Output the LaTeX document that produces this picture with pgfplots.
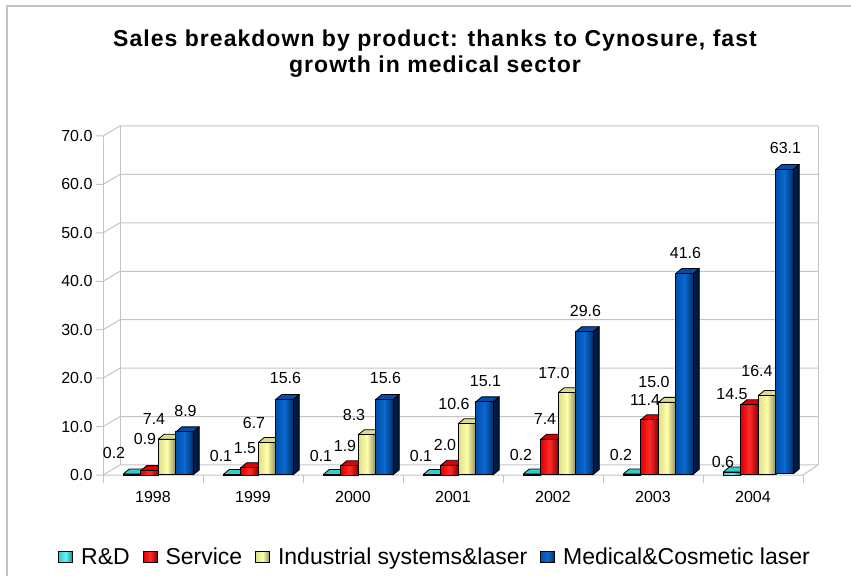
\documentclass[border=0pt]{standalone}
\usepackage{pgfplots}
\pgfplotsset{compat=1.18}
\usepackage{fontspec}
\setmainfont{Liberation Sans}
\definecolor{gridc}{HTML}{C4C4C4}
\definecolor{cyL}{HTML}{66F2F2}\definecolor{cyM}{HTML}{33CCCC}\definecolor{cyD}{HTML}{008C8C}\definecolor{cyS}{HTML}{005C5C}
\definecolor{rdL}{HTML}{FF2A2A}\definecolor{rdM}{HTML}{E00000}\definecolor{rdD}{HTML}{8A0000}\definecolor{rdS}{HTML}{4A0000}
\definecolor{ylL}{HTML}{FFFFA8}\definecolor{ylM}{HTML}{DCDC8C}\definecolor{ylD}{HTML}{8E8E5C}\definecolor{ylS}{HTML}{55552F}
\definecolor{blL}{HTML}{0A68D0}\definecolor{blM}{HTML}{0050AA}\definecolor{blD}{HTML}{00306A}\definecolor{blS}{HTML}{001A40}
\pgfplotsset{
  bar3d/.style n args={6}{only marks, scatter, mark=*, mark size=0pt,
    visualization depends on={y \as \rawy},
    scatter/@pre marker code/.code={%
      \pgfmathsetlengthmacro\hh{\rawy*4.842857}%
      \draw[black, line width=0.8bp, fill=#5, line join=round]
        (#1bp+8.75bp,0pt) -- ++(6bp,5bp) -- ++(0pt,-\hh) -- ++(-6bp,-5bp) -- cycle;
      \draw[black, line width=0.8bp, fill=#6, line join=round]
        (#1bp-8.75bp,0pt) -- ++(6bp,5bp) -- ++(17.5bp,0pt) -- ++(-6bp,-5bp) -- cycle;
      \draw[black, line width=0.8bp, left color=#3, right color=#4, middle color=#2]
        (#1bp-8.75bp,-\hh) rectangle (#1bp+8.75bp,0pt);
      \begin{scope}},
    scatter/@post marker code/.code={\end{scope}},
    legend image code/.code={\draw[black, line width=0.8bp, left color=#3, right color=#4, middle color=#2] (0bp,-5.5bp) rectangle (14bp,5.5bp);},
  },
  lbl/.style 2 args={only marks, mark=*, mark size=0pt, forget plot,
    nodes near coords={\pgfmathprintnumber[fixed,fixed zerofill,precision=1]{\pgfplotspointmeta}},
    nodes near coords style={font=\fontsize{16bp}{19bp}\selectfont, anchor=center, text=black, xshift=#1bp, yshift=#2bp}},
}
\begin{document}
\begin{tikzpicture}
\useasboundingbox (0bp,0bp) rectangle (851bp,576bp);
\draw[gridc, line width=1.2bp] (7bp,0bp) -- (7bp,570bp) -- (851bp,570bp);
\node[font=\fontsize{23bp}{26bp}\selectfont\bfseries\addfontfeature{LetterSpace=4.5}, align=center] at (435bp,522bp) {Sales breakdown by product: thanks to Cynosure, fast\\growth in medical sector};
\begin{axis}[
  at={(103bp,101bp)}, anchor=south west, scale only axis,
  width=700bp, height=339bp,
  xmin=-0.5, xmax=6.5, ymin=0, ymax=70, clip=false,
  axis line style={draw=none}, tick style={draw=none},
  tick align=outside, major tick length=7bp,
  xtick={0,...,6}, xticklabels={1998,1999,2000,2001,2002,2003,2004},
  ytick={0,10,...,70},
  yticklabel={\pgfmathprintnumber[fixed,fixed zerofill,precision=1]{\tick}},
  /pgf/number format/assume math mode=true,
  ticklabel style={font=\fontsize{16bp}{19bp}\selectfont},
  xticklabel style={yshift=-6bp},
  legend style={at={(0.473,-0.242)}, anchor=center, draw=none, fill=none,
    font=\fontsize{23bp}{27bp}\selectfont, nodes={inner sep=0pt},
    /tikz/every odd column/.append style={column sep=8bp},
    /tikz/every even column/.append style={column sep=13bp}},
  legend columns=4,
]
% 3D frame
\pgfplotsinvokeforeach{0,10,20,30,40,50,60,70}{
  \draw[gridc, line width=1bp] ([xshift=-7bp]axis cs:-0.5,#1) -- (axis cs:-0.5,#1) -- ([xshift=17bp,yshift=10bp]axis cs:-0.5,#1) -- ([xshift=15bp,yshift=10bp]axis cs:6.5,#1);
}
\draw[gridc, line width=1bp] (axis cs:-0.5,0) -- (axis cs:-0.5,70);
\draw[gridc, line width=1bp] ([xshift=17bp,yshift=10bp]axis cs:-0.5,0) -- ([xshift=17bp,yshift=10bp]axis cs:-0.5,70);
\draw[gridc, line width=1bp] ([xshift=15bp,yshift=10bp]axis cs:6.5,0) -- ([xshift=15bp,yshift=10bp]axis cs:6.5,70);
\draw[gridc, line width=1bp] (axis cs:-0.5,0) -- (axis cs:6.5,0) -- ([xshift=15bp,yshift=10bp]axis cs:6.5,0);
\pgfplotsinvokeforeach{-0.5,0.5,1.5,2.5,3.5,4.5,5.5,6.5}{
  \draw[gridc, line width=1bp] (axis cs:#1,0) -- ([yshift=-8bp]axis cs:#1,0);
}
% bars
\addplot[bar3d={-21}{cyL}{cyM}{cyD}{cyS}{cyM}]
  coordinates {(0,0.2) (1,0.1) (2,0.1) (3,0.1) (4,0.2) (5,0.2) (6,0.6)};
\addlegendentry{R\&D}
\addplot[bar3d={-3.5}{rdL}{rdM}{rdD}{rdS}{rdM}]
  coordinates {(0,0.9) (1,1.5) (2,1.9) (3,2.0) (4,7.4) (5,11.4) (6,14.5)};
\addlegendentry{Service}
\addplot[bar3d={14}{ylL}{ylM}{ylD}{ylS}{ylM}]
  coordinates {(0,7.4) (1,6.7) (2,8.3) (3,10.6) (4,17.0) (5,15.0) (6,16.4)};
\addlegendentry{Industrial systems\&laser}
\addplot[bar3d={31.5}{blL}{blM}{blD}{blS}{blM}]
  coordinates {(0,8.9) (1,15.6) (2,15.6) (3,15.1) (4,29.6) (5,41.6) (6,63.1)};
\addlegendentry{Medical\&Cosmetic laser}
% data labels
\addplot[lbl={-39}{21}] coordinates {(0,0.2)};
\addplot[lbl={-32}{19}]
  coordinates {(1,0.1) (2,0.1) (3,0.1) (4,0.2) (5,0.2)};
\addplot[lbl={-30}{10}] coordinates {(6,0.6)};
\addplot[lbl={-8}{32}] coordinates {(0,0.9)};
\addplot[lbl={-8}{20}]
  coordinates {(1,1.5) (2,1.9) (3,2.0) (4,7.4) (5,11.4)};
\addplot[lbl={-21}{11}] coordinates {(6,14.5)};
\addplot[lbl={1}{20}]
  coordinates {(0,7.4) (1,6.7) (2,8.3) (3,10.6) (4,17.0) (5,15.0)};
\addplot[lbl={4}{25}] coordinates {(6,16.4)};
\addplot[lbl={32.5}{21}]
  coordinates {(0,8.9) (1,15.6) (2,15.6) (3,15.1) (4,29.6) (5,41.6) (6,63.1)};
\end{axis}
\end{tikzpicture}
\end{document}
